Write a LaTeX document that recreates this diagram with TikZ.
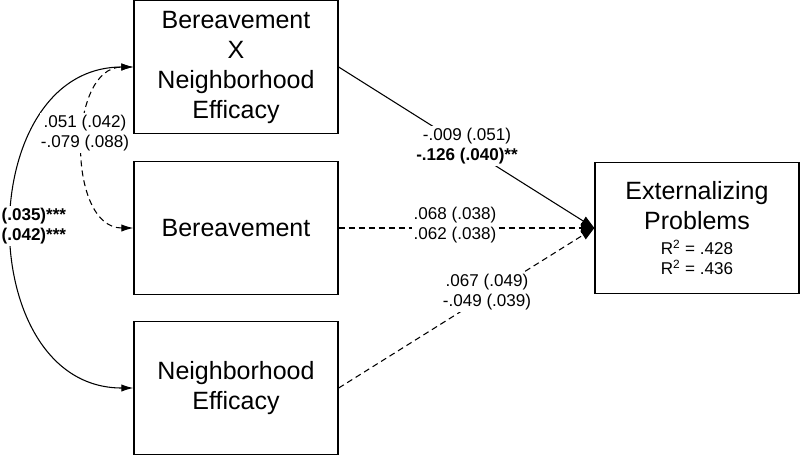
\documentclass[tikz,border=0pt]{standalone}
\usepackage{fontspec}
\setmainfont{Liberation Sans}
\usetikzlibrary{arrows.meta}
\newcommand\coeffont{\fontsize{12.8}{15.5}\selectfont}

\begin{document}
\begin{tikzpicture}[x=0.75pt,y=-0.75pt,
    var/.style={draw, line width=1pt, minimum width=153pt, minimum height=99.5pt,
        align=center, font=\fontsize{18.75}{22.5}\selectfont},
    coef/.style={fill=white, inner sep=1pt, align=center, font=\coeffont},
    regpath/.style={line width=0.8pt, -{Triangle[length=10pt,width=7.5pt]}},
    covpath/.style={line width=0.8pt, {Latex[length=9pt,width=5.5pt]}-{Latex[length=9pt,width=5.5pt]}},
    nonsig/.style={dash pattern=on 4.5pt off 3pt}]
  \useasboundingbox (0,0) rectangle (800,455);
  \node[var] (inter) at (236,67) {Bereavement\\X\\Neighborhood\\Efficacy};
  \node[var] (bereav) at (236,228) {Bereavement};
  \node[var] (effic) at (236,388) {Neighborhood\\Efficacy};
  \node[var, minimum height=98pt] (extern) at (697,228)
    {Externalizing\\Problems\\[-4pt]\coeffont R\textsuperscript{2} = .428\\[-7.5pt]\coeffont R\textsuperscript{2} = .436};

  \draw[regpath] (inter.east) -- (extern.west);
  \draw[regpath, nonsig] (bereav.east) -- (extern.west);
  \draw[regpath, nonsig] (effic.east) -- (extern.west);
  \draw[covpath] (effic.west) to[out=180, in=180, looseness=1.29] (inter.west);
  \draw[covpath, nonsig] (bereav.west) to[out=180, in=180, looseness=1.06] (inter.west);

  \node[coef] (c1) at (467,146) {-.009 (.051)\\\bfseries -.126 (.040)**};
  \node[coef] (c2) at (455,225) {.068 (.038)\\.062 (.038)};
  \node[coef] (c3) at (487,292) {.067 (.049)\\-.049 (.039)};
  \node[coef] (c4) at (85,133) {.051 (.042)\\-.079 (.088)};
  \node[coef, anchor=west, font=\coeffont\bfseries] (c5) at (0,226) {(.035)***\\(.042)***};
\end{tikzpicture}
\end{document}
